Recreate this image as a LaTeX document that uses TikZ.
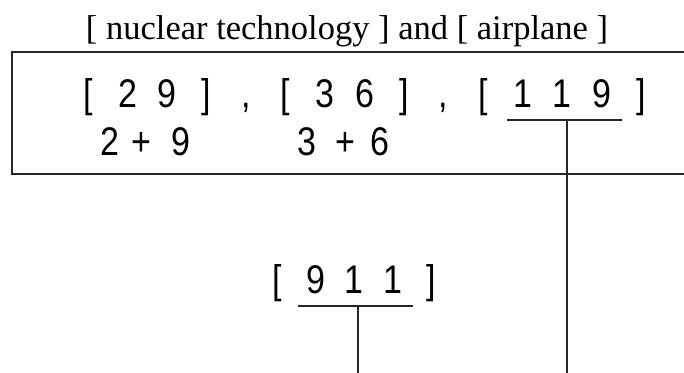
\documentclass[tikz,border=0pt]{standalone}
\usepackage{fontspec}
\setmainfont{Liberation Serif}
\newfontfamily\gothic{Liberation Sans}
\usepackage{graphicx}

\newcommand{\narrow}[1]{\scalebox{0.85}[1]{#1}}

\tikzset{
    chr/.style={
        anchor=base,
        inner sep=0pt,
        font=\gothic\fontsize{40}{40}\selectfont
    },
    rule/.style={
        line width=1.3pt,
        black!85
    }
}

\begin{document}
\begin{tikzpicture}[x=1pt, y=-1pt]

\useasboundingbox (0,0) rectangle (684,372);
\clip (0,0) rectangle (684,372);

% ---------------- TITLE ----------------

\node[
    anchor=base,
    font=\fontsize{34.5}{34.5}\selectfont
] (title) at (347,39)
    {[ nuclear technology ] and [ airplane ]};


% ---------------- BOX ----------------

\draw[rule] (12,52) rectangle (720,174);


% ---------------- NUMBERS ----------------

% first row
\foreach \c [count=\i from 0] in {[,2,9,],{,},[,3,6,],{,},[,1,1,9,]}
    \node[chr] (a\i) at (88+39.5*\i,107) {\narrow{\c}};

% sums
\foreach \c/\x [count=\i] in {2/110,+/141,9/181,3/307,+/345,6/380}
    \node[chr] (s\i) at (\x,155) {\narrow{\c}};

% result
\foreach \c [count=\i from 0] in {[,9,1,1,]}
    \node[chr] (b\i) at (277+38.5*\i,293) {\narrow{\c}};


% ---------------- LINKS ----------------

\coordinate (u1a) at (507,120);
\coordinate (u1b) at (622,120);
\coordinate (u1m) at (567,120);
\coordinate (u1e) at (567,380);

\coordinate (u2a) at (298,306);
\coordinate (u2b) at (413,306);
\coordinate (u2m) at (358,306);
\coordinate (u2e) at (358,380);

\draw[rule] (u1a) -- (u1b);
\draw[rule] (u1m) -- (u1e);

\draw[rule] (u2a) -- (u2b);
\draw[rule] (u2m) -- (u2e);

\end{tikzpicture}
\end{document}
